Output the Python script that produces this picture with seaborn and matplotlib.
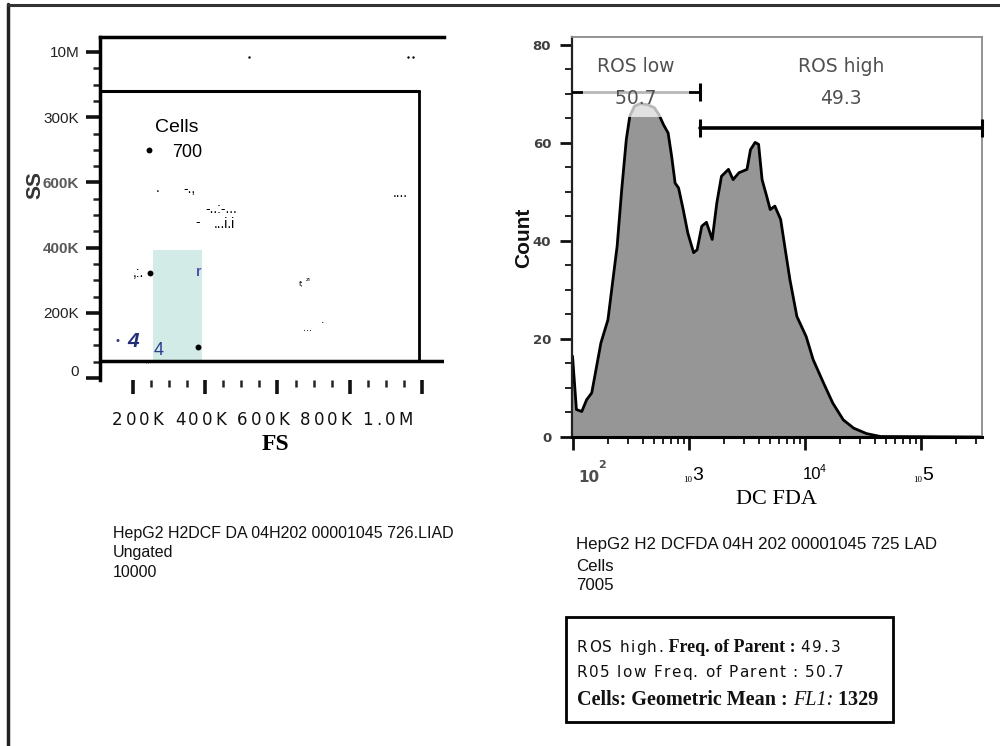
import numpy as np
import pandas as pd
import matplotlib
matplotlib.use("Agg")
import matplotlib.pyplot as plt
from matplotlib.lines import Line2D
from matplotlib.patches import Rectangle
from matplotlib.ticker import FixedLocator, LogLocator, NullFormatter, MultipleLocator
from matplotlib.transforms import ScaledTranslation
import seaborn as sns

sns.set_theme(style="white")
plt.rcParams["font.family"] = ["Liberation Sans", "DejaVu Sans"]
plt.rcParams["mathtext.fontset"] = "dejavusans"

W, H = 1000, 746

# ---- FS / SS dot plot (values in K) ----
fs_ticks = [200, 400, 600, 800, 1000]
fs_labels = ["200K", "400K", "600K", "800K", "1.0M"]
ss_ticks = [0, 200, 400, 600, 800, 1000]
ss_labels = ["0", "200K", "400K", "600K", "300K", "10M"]
cells_gate_fs = [108.6, 992]
cells_gate_ss = [52, 880]
shade_fs = [255, 391]
shade_ss = [52, 393]
event_fs = [244, 247, 380]
event_ss = [699, 322, 95]
faint_fs = [521, 961, 975]
faint_ss = [985, 985, 985]
cells_gate_count = 700

# ---- DCFDA histogram ----
dcfda = [99, 107, 119, 131, 145, 174, 200, 219, 240, 263, 288, 309, 339, 380,
         437, 501, 550, 603, 661, 708, 759, 813, 891, 977, 1096, 1175, 1288,
         1413, 1585, 1738, 1905, 2188, 2399, 2692, 3162, 3388, 3715, 3981,
         4266, 4677, 5012, 5495, 6166, 6761, 7413, 8511, 10233, 11749, 14454,
         17378, 21380, 26303, 33884, 44668, 335000]
count = [16.5, 5.6, 5.2, 7.6, 9.0, 19.2, 23.9, 31.4, 38.9, 50.5, 60.7, 65.5,
         67.5, 68.0, 67.8, 67.2, 65.8, 63.7, 62.0, 57.3, 51.8, 50.8, 46.4,
         41.6, 37.6, 38.2, 43.0, 43.8, 40.3, 47.8, 53.2, 54.6, 52.5, 53.9,
         54.6, 58.6, 60.1, 59.7, 52.5, 49.1, 46.4, 47.1, 44.4, 38.2, 32.1,
         24.6, 20.5, 15.8, 11.0, 6.9, 3.5, 1.8, 0.7, 0.1, 0.0]
hist_x_range = [98, 335700]
count_ticks = [0, 20, 40, 60, 80]
ros_split = 1245
ros_low_level = 70.3
ros_high_level = 63.1
ros_low_pct = 50.7
ros_high_pct = 49.3
geo_mean_fl1 = 1329
ungated_events = 10000
gated_cells = 7005

hist = pd.DataFrame({"DCFDA": dcfda, "Count": count})

fig = plt.figure(figsize=(W / 100, H / 100), dpi=100)
fig.patch.set_facecolor("white")


def fx(x):
    return x / W


def fy(y):
    return 1 - y / H


def advance(s, **kw):
    r = fig.canvas.get_renderer()
    t1 = fig.text(0, 0, "|" + s + "|", **kw)
    t2 = fig.text(0, 0, "||", **kw)
    w = t1.get_window_extent(r).width - t2.get_window_extent(r).width
    t1.remove()
    t2.remove()
    return w


def run(x, base, pieces):
    """Draw a row of text pieces left to right on a common baseline.
    Each piece is (text, style dict, extra letter spacing in px)."""
    for s, kw, gap in pieces:
        if gap:
            for ch in s:
                fig.text(fx(x), fy(base), ch, ha="left", va="baseline", **kw)
                x += advance(ch, **kw) + gap
        else:
            fig.text(fx(x), fy(base), s, ha="left", va="baseline", **kw)
            x += advance(s, **kw)
    return x


# outer frame
fig.add_artist(Line2D([fx(8), fx(8)], [0, fy(4)], transform=fig.transFigure,
                      color="#222222", lw=2.5))
fig.add_artist(Line2D([fx(8), 1], [fy(5), fy(5)], transform=fig.transFigure,
                      color="#333333", lw=2.2))

# ================= left panel =================
ax1 = fig.add_axes([fx(100), fy(380), 344 / W, 343 / H])
ax1.set_xlim(108.6, 1061)
ax1.set_ylim(-6, 1046)
for side in ["right", "bottom"]:
    ax1.spines[side].set_visible(False)
for side in ["top", "left"]:
    ax1.spines[side].set_color("black")
    ax1.spines[side].set_linewidth(2.5)

ax1.fill_between(shade_fs, shade_ss[0], shade_ss[1], color="#d3ebe7", lw=0, zorder=0)
ax1.plot([cells_gate_fs[0], cells_gate_fs[1]], [cells_gate_ss[1]] * 2, color="black", lw=2.2)
ax1.plot([cells_gate_fs[1]] * 2, cells_gate_ss, color="black", lw=2.0)
ax1.axhline(cells_gate_ss[0], color="black", lw=2.5)

sns.scatterplot(x=event_fs, y=event_ss, ax=ax1, color="black", s=18, linewidth=0, legend=False)
sns.scatterplot(x=faint_fs, y=faint_ss, ax=ax1, color="black", s=3, linewidth=0, legend=False)

ax1.xaxis.set_major_locator(FixedLocator(fs_ticks))
ax1.xaxis.set_minor_locator(FixedLocator([v for v in range(250, 1000, 50) if v % 200]))
ax1.xaxis.set_major_formatter(NullFormatter())
ax1.yaxis.set_major_locator(FixedLocator(ss_ticks))
ax1.yaxis.set_minor_locator(FixedLocator([v for v in range(50, 1040, 50) if v % 200]))
ax1.set_yticklabels(ss_labels)
ax1.tick_params(axis="both", which="major", direction="out", length=10, width=2.6,
                color="#111111", bottom=True, left=True, labelsize=11, pad=5)
ax1.tick_params(axis="both", which="minor", direction="out", length=5, width=1.8,
                color="#222222", bottom=True, left=True)
ax1.tick_params(axis="y", labelcolor="#222222")
for lab in ax1.get_yticklabels():
    if lab.get_text() in ("400K", "600K"):
        lab.set_fontweight("bold")
        lab.set_color("#5a5a5a")
    if lab.get_text() == "0":
        lab.set_transform(lab.get_transform() + ScaledTranslation(0, 8 / 100, fig.dpi_scale_trans))

# gate label inside the plot
fig.text(fx(155), fy(132), "Cells", ha="left", va="baseline", fontsize=14, color="black")
fig.text(fx(172), fy(157), f"{cells_gate_count}", ha="left", va="baseline", fontsize=13, color="black")

# stray glyphs scattered over the dot plot
noise = [
    (156, 192, ".", {}),
    (183, 193, "-.,", {}),
    (205, 213, "-..:-...", {}),
    (195, 226, "-", {}),
    (214, 228, "...i.i", {}),
    (393, 197, "....", {}),
    (133, 277, ",:.", {}),
    (196, 276, "r", {"color": "#4a55a8", "fontweight": "bold"}),
    (299, 285, "f;", {"fontsize": 6}),
    (306, 281, "zı", {"fontsize": 4.5}),
    (303, 331, "...", {"fontsize": 8}),
    (321, 323, ".", {"fontsize": 9}),
    (115, 344, "•", {"color": "#2b3680", "fontsize": 8}),
    (127, 347, "4", {"color": "#22307a", "fontsize": 15, "style": "italic", "fontweight": "bold"}),
    (144, 362, ",,", {"fontsize": 8}),
    (154, 355, "4", {"color": "#2b3a8c", "fontsize": 13}),
]
for x, y, s, kw in noise:
    style = {"fontsize": 10, "color": "black"}
    style.update(kw)
    fig.text(fx(x), fy(y), s, ha="left", va="baseline", **style)

# x tick label row and axis titles
run(112, 425, [(" ".join(fs_labels), {"fontsize": 12, "family": "DejaVu Sans", "color": "#111111"}, 3.0)])
fig.text(fx(275), fy(445), "FS", ha="center", va="center", fontsize=17,
         family="Liberation Serif", fontweight="bold", color="black")
fig.text(fx(35), fy(185), "SS", ha="center", va="center", rotation=90, fontsize=15,
         fontweight="bold", color="#333333")

# sample info
for i, line in enumerate(["HepG2 H2DCF DA 04H202 00001045 726.LIAD", "Ungated", f"{ungated_events}"]):
    fig.text(fx(113), fy(538 + 19.5 * i), line, ha="left", va="baseline", fontsize=11.5, color="#111111")

# ================= right panel =================
ax2 = fig.add_axes([fx(572), fy(437), 410 / W, 400 / H])
ax2.set_xscale("log")
ax2.set_xlim(*hist_x_range)
ax2.set_ylim(0, 81.6)

ax2.fill_between(hist["DCFDA"], hist["Count"], color="#969696", lw=0, zorder=1)
sns.lineplot(data=hist, x="DCFDA", y="Count", ax=ax2, color="black", lw=2,
             sort=False, estimator=None, zorder=2)
ax2.set_xlabel("")
ax2.set_ylabel("")

# gates
ax2.plot([hist_x_range[0], ros_split], [ros_low_level] * 2, color="black", lw=2, zorder=3)
ax2.plot([ros_split], [ros_low_level], marker="|", ms=13, mew=2.2, color="black", zorder=3)
ax2.plot([ros_split, hist_x_range[1]], [ros_high_level] * 2, color="black", lw=2.6, zorder=3)
ax2.plot([ros_split, hist_x_range[1]], [ros_high_level] * 2, ls="none", marker="|", ms=13,
         mew=2.2, color="black", zorder=3, clip_on=False)

low_mid = np.sqrt(hist_x_range[0] * ros_split)
high_mid = np.sqrt(ros_split * hist_x_range[1])
gate_style = {"fontsize": 13.5, "family": "DejaVu Sans", "color": "#505050", "ha": "center", "va": "center"}
ax2.text(low_mid, 75.5, "ROS low", zorder=6, **gate_style)
ax2.text(low_mid, 69.0, f"    {ros_low_pct}    ", zorder=6,
         bbox=dict(facecolor="white", alpha=0.72, edgecolor="none", boxstyle="square,pad=0.45"),
         **gate_style)
ax2.text(high_mid, 75.5, "ROS high", zorder=6, **gate_style)
ax2.text(high_mid, 69.0, f"{ros_high_pct}", zorder=6, **gate_style)

for side in ["top", "right"]:
    ax2.spines[side].set_color("#8a8a8a")
    ax2.spines[side].set_linewidth(1.3)
ax2.spines["left"].set_color("#222222")
ax2.spines["left"].set_linewidth(1.6)
ax2.spines["bottom"].set_color("black")
ax2.spines["bottom"].set_linewidth(2.2)

ax2.xaxis.set_major_locator(LogLocator(base=10, numticks=10))
ax2.xaxis.set_minor_locator(LogLocator(base=10, subs=np.arange(2, 10), numticks=20))
ax2.xaxis.set_major_formatter(NullFormatter())
ax2.xaxis.set_minor_formatter(NullFormatter())
ax2.yaxis.set_major_locator(FixedLocator(count_ticks))
ax2.yaxis.set_minor_locator(MultipleLocator(5))
ax2.set_yticklabels([str(v) for v in count_ticks])
ax2.tick_params(axis="both", which="major", direction="out", length=9, width=2.0,
                color="#111111", bottom=True, left=True, pad=6)
ax2.tick_params(axis="both", which="minor", direction="out", length=5, width=1.4,
                color="#222222", bottom=True, left=True)
ax2.tick_params(axis="y", labelsize=9.5, labelcolor="#404040")
for lab in ax2.get_yticklabels():
    lab.set_fontweight("bold")
    lab.set_family("DejaVu Sans")

# decade labels under the log axis
fig.text(fx(578), fy(482), "10", ha="left", va="baseline", fontsize=11,
         family="DejaVu Sans", fontweight="bold", color="#4d4d4d")
fig.text(fx(598), fy(468), "2", ha="left", va="baseline", fontsize=8,
         family="DejaVu Sans", fontweight="bold", color="#4d4d4d")
fig.text(fx(683), fy(482), "10", ha="left", va="baseline", fontsize=6.5,
         family="Liberation Serif", color="black")
fig.text(fx(692), fy(480), "3", ha="left", va="baseline", fontsize=14, color="black")
fig.text(fx(803), fy(479), "10", ha="left", va="baseline", fontsize=12, color="black")
fig.text(fx(820), fy(472), "4", ha="left", va="baseline", fontsize=7.5, color="black")
fig.text(fx(913), fy(482), "10", ha="left", va="baseline", fontsize=6.5,
         family="Liberation Serif", color="black")
fig.text(fx(922), fy(480), "5", ha="left", va="baseline", fontsize=14, color="black")

fig.text(fx(777), fy(500), "DC FDA", ha="center", va="center", fontsize=16,
         family="Liberation Serif", color="black")
fig.text(fx(524), fy(238), "Count", ha="center", va="center", rotation=90, fontsize=15,
         fontweight="bold", color="#111111")

for i, line in enumerate(["HepG2 H2 DCFDA 04H 202 00001045 725 LAD", "Cells", f"{gated_cells}"]):
    fig.text(fx(576), fy([549, 571, 590][i]), line, ha="left", va="baseline",
             fontsize=12.2, color="#111111")

# statistics box
fig.add_artist(Rectangle((fx(566), fy(722)), 327 / W, 105 / H, transform=fig.transFigure,
                         facecolor="none", edgecolor="black", lw=2))
sans = {"fontsize": 11, "family": "DejaVu Sans", "color": "#111111"}
serif_b = {"fontsize": 13, "family": "Liberation Serif", "fontweight": "bold", "color": "#111111"}
run(577, 652, [("ROS high.", sans, 1.3), (" Freq. of Parent : ", serif_b, 0),
               (f"{ros_high_pct}", sans, 2.0)])
run(577, 677, [(f"R05 low Freq. of Parent : {ros_low_pct}", sans, 1.3)])
serif_b15 = dict(serif_b, fontsize=14.5)
run(577, 705, [("Cells: Geometric Mean : ", serif_b15, 0),
               ("FL1:", {"fontsize": 14.5, "family": "Liberation Serif", "style": "italic", "color": "#111111"}, 0),
               (f" {geo_mean_fl1}", serif_b15, 0)])

fig.savefig("out.png", dpi=100, facecolor="white")
